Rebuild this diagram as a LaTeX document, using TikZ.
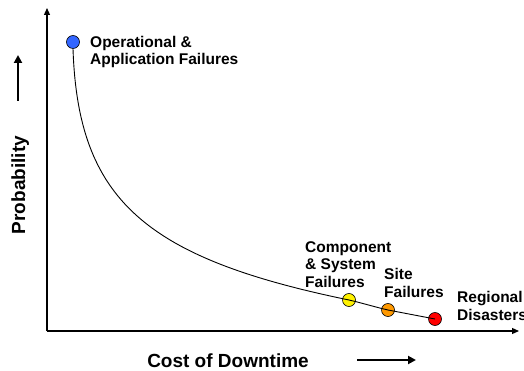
\documentclass[tikz,border=0pt]{standalone}
\usepackage{fontspec}
\setmainfont{Liberation Sans}
\usepackage{tikz}
\usetikzlibrary{arrows.meta}

\definecolor{opblue}{RGB}{51,102,255}
\definecolor{siteorange}{RGB}{255,153,0}

\begin{document}
\begin{tikzpicture}[x=1pt,y=-1pt,>={Triangle[length=7pt,width=6pt]},
    fail node/.style={circle,draw,line width=0.6pt,minimum size=13pt,inner sep=0pt},
    fail label/.style={align=left,anchor=base west,inner sep=0pt,font=\bfseries\fontsize{15.5}{17.5}\selectfont},
    axis label/.style={inner sep=0pt,font=\bfseries\fontsize{19}{22}\selectfont}]

  \useasboundingbox (0,0) rectangle (524,371);

  % axes
  \coordinate (origin) at (47,331);
  \coordinate (ytip) at (47,8);
  \coordinate (xtip) at (519,331);
  \draw[->,line width=1.2pt] (origin) -- (ytip);
  \draw[->,line width=1.2pt] (origin) -- (xtip);

  % axis labels
  \node[axis label,rotate=90,anchor=base] (prob) at (25,185) {Probability};
  \coordinate (pfrom) at (18,101);
  \coordinate (pto) at (18,55);
  \draw[-{Triangle[length=8pt,width=8pt]},line width=2.6pt] (pfrom) -- (pto);
  \node[axis label,anchor=base] (cost) at (228,367) {Cost of Downtime};
  \coordinate (cfrom) at (357,360);
  \coordinate (cto) at (416,360);
  \draw[-{Triangle[length=8pt,width=8pt]},line width=2.6pt] (cfrom) -- (cto);

  % failure points
  \node[fail node,fill=opblue]      (op)   at (73,42)   {};
  \node[fail node,fill=yellow]      (cs)   at (349,300) {};
  \node[fail node,fill=siteorange]  (site) at (388,310) {};
  \node[fail node,fill=red]         (reg)  at (435,319) {};

  \draw[line width=0.9pt] (op.south) .. controls (78,200) and (145,258) .. (cs.center)
        .. controls (362,303) and (375,307) .. (site.center)
        -- (reg.center);

  % labels (anchored on the last line)
  \node[fail label] (oplab)   at (90,65)  {Operational \&\\Application Failures};
  \node[fail label] (cslab)   at (305,287) {Component\\\& System\\Failures};
  \node[fail label] (sitelab) at (384,297) {Site\\Failures};
  \node[fail label] (reglab)  at (457,320) {Regional\\Disasters};

\end{tikzpicture}
\end{document}
